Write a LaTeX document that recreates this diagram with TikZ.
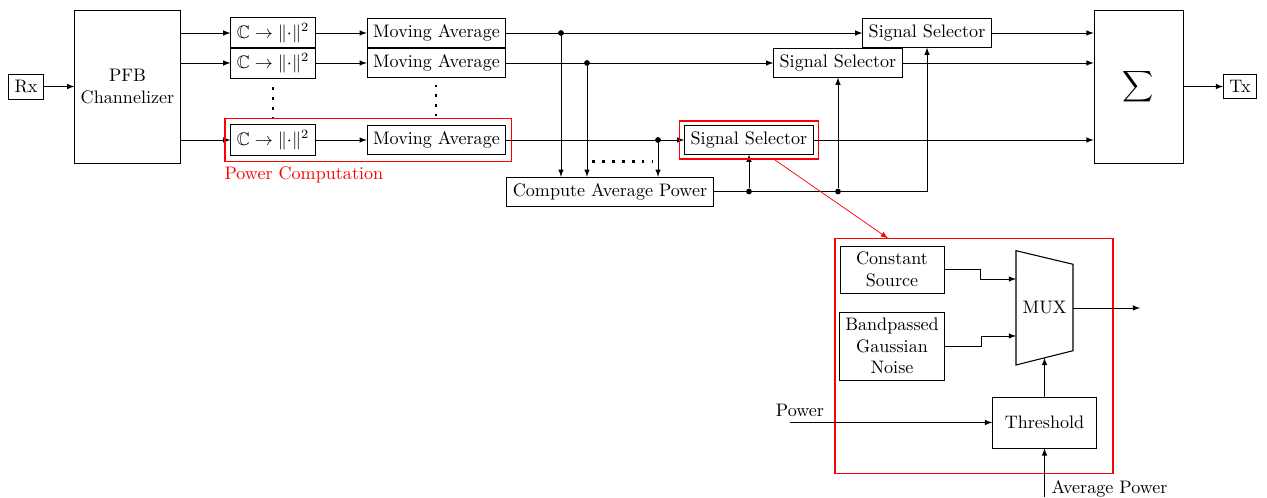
\documentclass[tikz,border=0pt]{standalone}
\usepackage{amssymb}
\usetikzlibrary{shapes.geometric, arrows, calc, fit}
\tikzstyle{rect} = [rectangle, draw=black, text centered]
\tikzstyle{tall} = [rect, minimum width=2cm, minimum height=2.97cm, align=center]
\tikzstyle{sub} = [rect, minimum width=2.02cm, align=center]
\tikzstyle{blank} = [rectangle]
\tikzstyle{arrow} = [->,>=latex]
\tikzstyle{dot} = [circle, fill=black, inner sep=0pt, minimum size=3.2pt]
\tikzstyle{redbox} = [rectangle, draw=red, thick]
\tikzstyle{dotrow} = [line width=1.5pt, dash pattern=on 1.5pt off 4pt]

\begin{document}
\begin{tikzpicture}
        \useasboundingbox (0,0) rectangle (24.618,-9.657);
        \node[rect] (rx) at (0.505,-1.681) {Rx};
        \node[tall] (pfb) at (2.477,-1.681) {PFB\\Channelizer};
        \draw[arrow] (rx)--(pfb);

        \foreach \i/\y in {1/-0.641, 2/-1.224, 3/-2.720}
        {\node[rect] (c\i) at (5.304,\y) {$\mathbb{C}\to\|{\cdot}\|^2$};
         \node[rect] (ma\i) at (8.481,\y) {Moving Average};
         \draw[arrow] (pfb.east |- c\i)--(c\i);
         \draw[arrow] (c\i)--(ma\i);}

        \foreach \i/\x/\y in {1/18.012/-0.641, 2/16.282/-1.224, 3/14.553/-2.720}
        {\node[rect] (ss\i) at (\x,\y) {Signal Selector};}

        \node[tall, minimum width=1.73cm] (sum) at (22.121,-1.681) {\large$\displaystyle\sum$};
        \node[rect] (tx) at (24.093,-1.681) {Tx};
        \draw[arrow] (sum)--(tx);

        \node[rect] (cap) at (11.852,-3.721) {Compute Average Power};

        \node[dot] (j1) at (10.900,-0.641) {};
        \node[dot] (j2) at (11.405,-1.224) {};
        \node[dot] (j3) at (12.785,-2.720) {};
        \foreach \i in {1,2,3}
        {\draw[arrow] (ma\i)--(ss\i);
         \draw[arrow] (ss\i)--(ss\i -| sum.west);
         \draw[arrow] (j\i)--(j\i |- cap.north);}

        \node[dot] (j4) at (ss3 |- cap) {};
        \node[dot] (j5) at (ss2 |- cap) {};
        \draw[arrow] (cap) -| (ss1);
        \draw[arrow] (j4)--(ss3);
        \draw[arrow] (j5)--(ss2);

        % dots
        \draw[dotrow] (5.304,-1.690)--(5.304,-2.303);
        \draw[dotrow] (8.472,-1.642)--(8.472,-2.254);
        \draw[dotrow] (11.503,-3.142)--(12.697,-3.142);

        \node[redbox, fit=(c3) (ma3), inner sep=3pt] (pwr) {};
        \node[blank, red, anchor=north west, inner sep=0pt] (pwrlbl) at ($(pwr.south west)+(0,-0.09)$) {Power Computation};
        \node[redbox, fit=(ss3), inner sep=2.5pt] (selbox) {};

        % zoomed signal selector
        \node[redbox, minimum width=5.40cm, minimum height=4.566cm] (detail) at (18.925,-6.913) {};
        \coordinate (zs) at (15.058,-3.109);
        \coordinate (zd) at (17.254,-4.630);
        \draw[arrow, red] (zs)--(zd);

        \node[sub] (cs) at (17.332,-5.236) {Constant\\Source};
        \node[sub] (bgn) at (17.332,-6.723) {Bandpassed\\Gaussian\\Noise};

        \coordinate (m1) at (19.741,-4.871);
        \coordinate (m2) at (20.848,-5.135);
        \coordinate (m3) at (20.848,-6.814);
        \coordinate (m4) at (19.741,-7.092);
        \draw[semithick] (m1)--(m2)--(m3)--(m4)--cycle;
        \node[blank] (mux) at (20.295,-5.984) {MUX};

        \coordinate (in1) at (19.741,-5.421);
        \coordinate (in2) at (19.741,-6.528);
        \coordinate (out) at (22.150,-5.984);
        \draw[arrow] (cs.east) -- ++(0.7,0) |- (in1);
        \draw[arrow] (bgn.east) -- ++(0.7,0) |- (in2);
        \draw[arrow] (mux -| m2)--(out);

        \node[sub, minimum height=0.99cm] (thr) at (20.295,-8.209) {Threshold};
        \draw[arrow] (thr)--($(m4)!0.5!(m3)$);

        \coordinate (pin) at (15.350,-8.209);
        \draw[arrow] (pin)--(thr);
        \node[blank] (plbl) at (15.544,-7.966) {Power};

        \coordinate (ain) at (20.295,-9.657);
        \draw[arrow] (ain)--(thr);
        \node[blank] (albl) at (21.558,-9.50) {Average Power};
\end{tikzpicture}
\end{document}
